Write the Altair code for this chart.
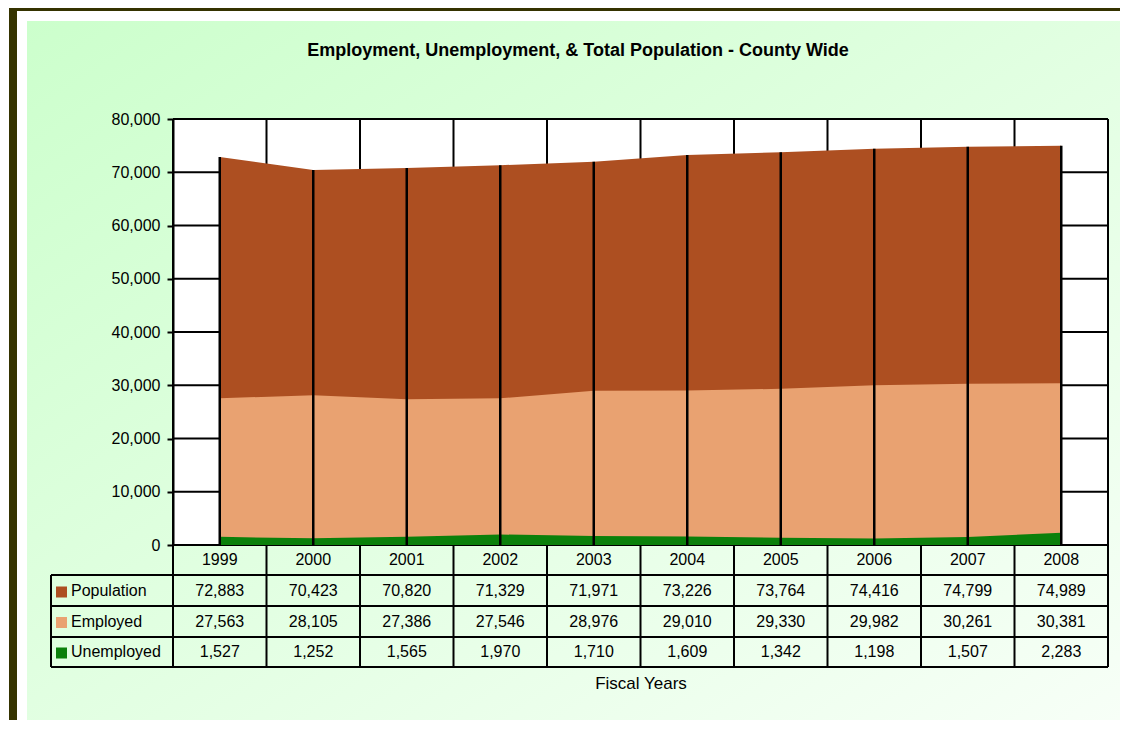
import altair as alt
import pandas as pd

# ---------------- data ----------------
years = [1999, 2000, 2001, 2002, 2003, 2004, 2005, 2006, 2007, 2008]
population = [72883, 70423, 70820, 71329, 71971, 73226, 73764, 74416, 74799, 74989]
employed = [27563, 28105, 27386, 27546, 28976, 29010, 29330, 29982, 30261, 30381]
unemployed = [1527, 1252, 1565, 1970, 1710, 1609, 1342, 1198, 1507, 2283]
series_names = ["Population", "Employed", "Unemployed"]
y_ticks = [0, 10000, 20000, 30000, 40000, 50000, 60000, 70000, 80000]
title_text = "Employment, Unemployment, & Total Population - County Wide"
x_title = "Fiscal Years"

# ---------------- styles / layout ----------------
series_colors = ["#ad4f21", "#e9a271", "#0b800b"]
FONT = "Liberation Sans"
W, H = 935, 426
PAD = {"left": 165, "top": 111, "right": 12, "bottom": 175}
RIGHT = 947      # right edge of the svg, in view coordinates
BOTTOM = 601     # bottom edge of the svg, in view coordinates
ROW_Y = [472, 502.5, 533]
HEADER_Y = 441
TABLE_LINES_Y = [456, 487, 518, 548]
TABLE_LEFT = -122

wide = pd.DataFrame({"Year": years, "Population": population,
                     "Employed": employed, "Unemployed": unemployed})
wide["YearLabel"] = wide["Year"].astype(str)
bounds = pd.DataFrame({"b": [y - 0.5 for y in years] + [years[-1] + 0.5]})
hgrid = pd.DataFrame({"v": y_ticks})
one = pd.DataFrame({"k": [0]})

xs = alt.Scale(domain=[years[0] - 0.5, years[-1] + 0.5], nice=False, zero=False)
ys = alt.Scale(domain=[0, 80000], nice=False, zero=True)
yaxis = alt.Axis(values=y_ticks, labelExpr="format(datum.value, ',')", tickSize=6,
                 tickWidth=2, tickColor="black", domain=True, domainColor="black",
                 domainWidth=2, labelFont=FONT, labelFontSize=16, labelColor="black",
                 labelPadding=7, grid=False, title=None, zindex=1)


def X(field):
    return alt.X(field, scale=xs, axis=None)


def Y(field):
    return alt.Y(field, scale=ys, axis=yaxis)


def box(x, x2, y, y2, fill):
    return alt.Chart(one).mark_rect(fill=fill, strokeWidth=0).encode(
        x=alt.value(x), x2=alt.value(x2), y=alt.value(y), y2=alt.value(y2))


def hline(x, x2, y, width=2):
    return alt.Chart(one).mark_rule(color="black", strokeWidth=width).encode(
        x=alt.value(x), x2=alt.value(x2), y=alt.value(y))


grad = alt.LinearGradient(
    gradient="linear",
    stops=[alt.GradientStop(color="#ccffcc", offset=0),
           alt.GradientStop(color="#f7fff7", offset=1)],
    x1=0, y1=0, x2=1, y2=1)

layers = [
    box(-164, RIGHT, -111, BOTTOM, "#353300"),
    box(-156, RIGHT, -108, BOTTOM, "white"),
    box(-146, RIGHT, -98, BOTTOM, grad),
    box(0, W, 0, H, "white"),
    # grid lines
    alt.Chart(bounds).mark_rule(color="black", strokeWidth=2).encode(
        x=X("b:Q"), y=alt.value(0), y2=alt.value(H)),
    alt.Chart(hgrid).mark_rule(color="black", strokeWidth=2).encode(
        y=Y("v:Q"), x=alt.value(0), x2=alt.value(W)),
]

# areas (overlapping, not stacked)
for name, col in zip(series_names, series_colors):
    layers.append(alt.Chart(wide).mark_area(color=col, opacity=1).encode(
        x=X("Year:Q"), y=Y(f"{name}:Q")))

# drop lines
layers.append(alt.Chart(wide).mark_rule(color="black", strokeWidth=2.5).encode(
    x=X("Year:Q"), y=Y("Population:Q"), y2=alt.value(H)))

# data table
layers.append(alt.Chart(wide).mark_text(font=FONT, fontSize=16, color="black",
                                        baseline="middle").encode(
    x=X("Year:Q"), y=alt.value(HEADER_Y), text="YearLabel:N"))
for name, col, ry in zip(series_names, series_colors, ROW_Y):
    layers.append(alt.Chart(wide).mark_text(font=FONT, fontSize=16, color="black",
                                            baseline="middle").encode(
        x=X("Year:Q"), y=alt.value(ry), text=alt.Text(f"{name}:Q", format=",")))
    layers.append(box(-117, -106, ry - 4.5, ry + 6.5, col))
    layers.append(alt.Chart(one).mark_text(font=FONT, fontSize=16, color="black",
                                           baseline="middle", align="left").encode(
        x=alt.value(-102), y=alt.value(ry), text=alt.value(name)))

for ty in TABLE_LINES_Y:
    layers.append(hline(TABLE_LEFT, W, ty))
layers.append(alt.Chart(one).mark_rule(color="black", strokeWidth=2).encode(
    x=alt.value(TABLE_LEFT), y=alt.value(TABLE_LINES_Y[0]), y2=alt.value(TABLE_LINES_Y[-1])))
layers.append(alt.Chart(bounds).mark_rule(color="black", strokeWidth=2).encode(
    x=X("b:Q"), y=alt.value(H), y2=alt.value(TABLE_LINES_Y[-1])))

# titles
layers.append(alt.Chart(one).mark_text(font=FONT, fontSize=18, fontWeight="bold",
                                       color="black", baseline="middle").encode(
    x=alt.value(405), y=alt.value(-68), text=alt.value(title_text)))
layers.append(alt.Chart(one).mark_text(font=FONT, fontSize=17, color="black",
                                       baseline="middle").encode(
    x=alt.value(468), y=alt.value(565), text=alt.value(x_title)))

chart = alt.layer(*layers).properties(
    width=W, height=H, autosize=alt.AutoSizeParams(type="none"), padding=PAD,
    background="white",
).configure_view(stroke=None)

chart.save("out.html", embed_options={"renderer": "svg", "actions": False})
